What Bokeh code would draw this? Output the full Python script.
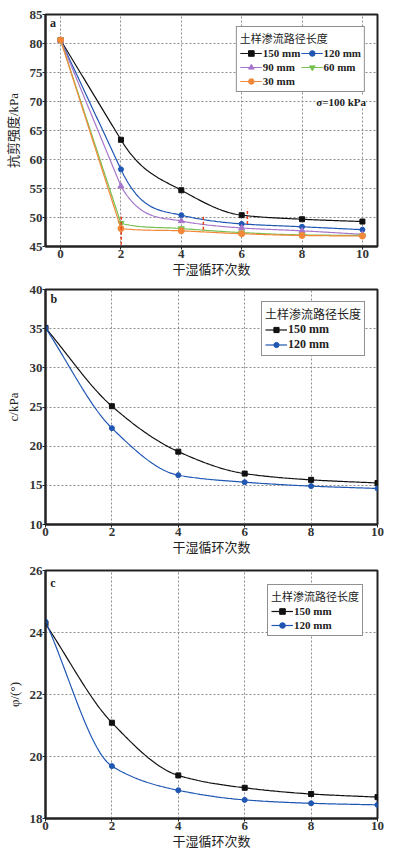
import numpy as np
from bokeh.plotting import figure
from bokeh.layouts import column
from bokeh.models import Legend, LegendItem, Label, Range1d, FixedTicker
from bokeh.embed import file_html
from bokeh.resources import INLINE

# ---------------- data ----------------
cycles = [0, 2, 4, 6, 8, 10]
x_ticks = [0, 2, 4, 6, 8, 10]

tau_150 = [80.6, 63.4, 54.7, 50.4, 49.7, 49.3]
tau_120 = [80.6, 58.3, 50.4, 48.9, 48.4, 47.9]
tau_90 = [80.6, 55.4, 49.4, 48.2, 47.7, 47.1]
tau_60 = [80.6, 49.0, 48.1, 47.4, 47.0, 46.9]
tau_30 = [80.6, 48.1, 47.7, 47.2, 46.9, 46.8]
tau_ticks = [45, 50, 55, 60, 65, 70, 75, 80, 85]

c_150 = [35.1, 25.1, 19.3, 16.5, 15.7, 15.3]
c_120 = [35.1, 22.3, 16.3, 15.4, 14.9, 14.6]
c_ticks = [10, 15, 20, 25, 30, 35, 40]

phi_150 = [24.28, 21.09, 19.39, 18.99, 18.79, 18.69]
phi_120 = [24.35, 19.69, 18.91, 18.60, 18.49, 18.44]
phi_ticks = [18, 20, 22, 24, 26]

mark_x = [2.01, 4.73, 6.19]
mark_lo = [45.3, 47.9, 48.9]
mark_hi = [50.5, 50.2, 51.5]

legend_title = "土样渗流路径长度"
x_label = "干湿循环次数"

BLACK = "#111111"
BLUE = "#1f57b3"
PURPLE = "#a676cc"
GREEN = "#76c150"
ORANGE = "#f3883a"
TXT = "#222222"

SERIF = "'Liberation Serif'"
CJK = "'Noto Sans CJK SC'"
MIXED = "'Liberation Serif', 'Noto Sans CJK SC'"


def smooth(x, y, sharp_first=False, n=40):
    x = np.asarray(x, float)
    y = np.asarray(y, float)
    h = np.diff(x)
    d = np.diff(y) / h
    m = np.zeros_like(y)
    for k in range(1, len(x) - 1):
        if d[k - 1] * d[k] > 0:
            w1 = 2 * h[k] + h[k - 1]
            w2 = h[k] + 2 * h[k - 1]
            m[k] = (w1 + w2) / (w1 / d[k - 1] + w2 / d[k])
    m[0] = d[0]
    m[-1] = d[-1]
    mR = m.copy()
    mL = m.copy()
    if sharp_first:
        mL[1] = d[0]
        lim = 3 * d[1]
        mR[1] = d[0] if abs(d[0]) < abs(lim) else lim
    xs, ys = [], []
    for k in range(len(x) - 1):
        t = np.linspace(0, 1, n, endpoint=(k == len(x) - 2))
        h00 = 2 * t**3 - 3 * t**2 + 1
        h10 = t**3 - 2 * t**2 + t
        h01 = -2 * t**3 + 3 * t**2
        h11 = t**3 - t**2
        xs.extend(x[k] + t * h[k])
        ys.extend(h00 * y[k] + h10 * h[k] * mR[k] + h01 * y[k + 1] + h11 * h[k] * mL[k + 1])
    return xs, ys


def make_fig(height, xr, yr, yticks, ylabel, bt, bl, br, bb, ystand):
    p = figure(width=399, height=height, x_range=Range1d(*xr), y_range=Range1d(*yr),
               output_backend="svg", toolbar_location=None,
               min_border_top=bt, min_border_left=bl, min_border_right=br, min_border_bottom=bb)
    p.background_fill_color = "white"
    p.border_fill_color = "white"
    p.outline_line_color = "#222222"
    p.outline_line_width = 2
    p.xaxis.ticker = FixedTicker(ticks=x_ticks)
    p.yaxis.ticker = FixedTicker(ticks=yticks)
    p.xgrid.ticker = FixedTicker(ticks=x_ticks)
    p.ygrid.ticker = FixedTicker(ticks=yticks)
    for ax in (p.xaxis, p.yaxis):
        ax.axis_line_width = 2
        ax.axis_line_color = "#222222"
        ax.major_tick_out = 3
        ax.major_tick_in = 0
        ax.major_tick_line_width = 1
        ax.major_tick_line_color = "#222222"
        ax.minor_tick_line_color = None
        ax.major_label_text_font = SERIF
        ax.major_label_text_font_style = "bold"
        ax.major_label_text_font_size = "13px"
        ax.major_label_text_color = "#333333"
        ax.major_label_standoff = 0
        ax.axis_label_text_font_style = "normal"
        ax.axis_label_text_font_size = "13px"
        ax.axis_label_text_color = TXT
    p.xaxis.axis_label = x_label
    p.xaxis.axis_label_text_font = CJK
    p.xaxis.axis_label_standoff = -2
    p.yaxis.axis_label = ylabel
    p.yaxis.axis_label_text_font = MIXED
    p.yaxis.axis_label_standoff = ystand
    p.xgrid.grid_line_color = "#8c8c8c"
    p.ygrid.grid_line_color = "#8c8c8c"
    p.xgrid.grid_line_dash = "2 2"
    p.ygrid.grid_line_dash = "2 2"
    p.xgrid.grid_line_width = 1
    p.ygrid.grid_line_width = 1
    return p


def panel_letter(p, x, y, s):
    p.add_layout(Label(x=x, y=y, text=s, text_align="center", text_baseline="middle",
                       text_font=SERIF, text_font_style="bold", text_font_size="12px",
                       text_color=TXT))


def add_series(p, x, y, color, marker, size, sharp_first=False):
    xs, ys = smooth(x, y, sharp_first)
    ln = p.line(xs, ys, line_color=color, line_width=1.2)
    mk = p.scatter(x, y, marker=marker, size=size, fill_color=color, line_color=color)
    return [ln, mk]


def style_legend(p, items, ncols, margin, tsize, fsize, lab_h):
    lg = Legend(items=items, ncols=ncols, location="top_right")
    lg.title = legend_title
    lg.title_text_font = CJK
    lg.title_text_font_size = tsize
    lg.title_text_font_style = "normal"
    lg.title_text_color = TXT
    lg.title_standoff = 0
    lg.label_text_font = SERIF
    lg.label_text_font_style = "bold"
    lg.label_text_font_size = fsize
    lg.label_text_color = TXT
    lg.label_standoff = 1
    lg.label_height = lab_h
    lg.glyph_width = 22
    lg.glyph_height = lab_h
    lg.spacing = 0
    lg.padding = 3
    lg.margin = margin
    lg.border_line_color = "#222222"
    lg.border_line_width = 1
    lg.background_fill_color = "white"
    lg.background_fill_alpha = 1
    p.add_layout(lg, "center")
    return lg


# ---------------- panel a ----------------
pa = make_fig(280, (-0.5, 10.5), (45, 85), tau_ticks, "抗剪强度/kPa", 14, 43, 17, 33, 6)
ra = add_series(pa, cycles, tau_150, BLACK, "square", 5, True)
rb = add_series(pa, cycles, tau_120, BLUE, "circle", 5, True)
rc = add_series(pa, cycles, tau_90, PURPLE, "triangle", 6, True)
rd = add_series(pa, cycles, tau_60, GREEN, "inverted_triangle", 6, True)
re = add_series(pa, cycles, tau_30, ORANGE, "circle", 6, True)
pa.segment(x0=mark_x, y0=mark_lo, x1=mark_x, y1=mark_hi, line_color="#e8401c",
           line_width=1.5, line_dash="3 2")
style_legend(pa, [
    LegendItem(label="150 mm", renderers=ra),
    LegendItem(label="90 mm", renderers=rc),
    LegendItem(label="30 mm", renderers=re),
    LegendItem(label="120 mm", renderers=rb),
    LegendItem(label="60 mm", renderers=rd),
], 2, 12, "11px", "11px", 14)
pa.add_layout(Label(x=10.12, y=70, text="σ=100 kPa", text_align="right", text_baseline="middle",
                    text_font=SERIF, text_font_style="bold", text_font_size="11px",
                    text_color=TXT, background_fill_color="white", background_fill_alpha=1.0))
panel_letter(pa, -0.25, 83.5, "a")

# ---------------- panel b ----------------
pb = make_fig(278, (0, 10), (10, 40), c_ticks, "c/kPa", 9, 42, 21, 34, 6)
sb1 = add_series(pb, cycles, c_150, BLACK, "square", 5)
sb2 = add_series(pb, cycles, c_120, BLUE, "circle", 5)
style_legend(pb, [LegendItem(label="150 mm", renderers=sb1),
                  LegendItem(label="120 mm", renderers=sb2)], 1, 12, "12px", "12px", 13)
panel_letter(pb, 0.25, 38.85, "b")

# ---------------- panel c ----------------
pc = make_fig(297, (0, 10), (18, 26), phi_ticks, "φ/(°)", 12, 45, 22, 37, 5)
sc1 = add_series(pc, cycles, phi_150, BLACK, "square", 5)
sc2 = add_series(pc, cycles, phi_120, BLUE, "circle", 5)
style_legend(pc, [LegendItem(label="150 mm", renderers=sc1),
                  LegendItem(label="120 mm", renderers=sc2)], 1, 14, "11px", "11px", 14)
panel_letter(pc, 0.22, 25.6, "c")

layout = column(pa, pb, pc, spacing=0)
open("out.html", "w").write(file_html(layout, INLINE))
